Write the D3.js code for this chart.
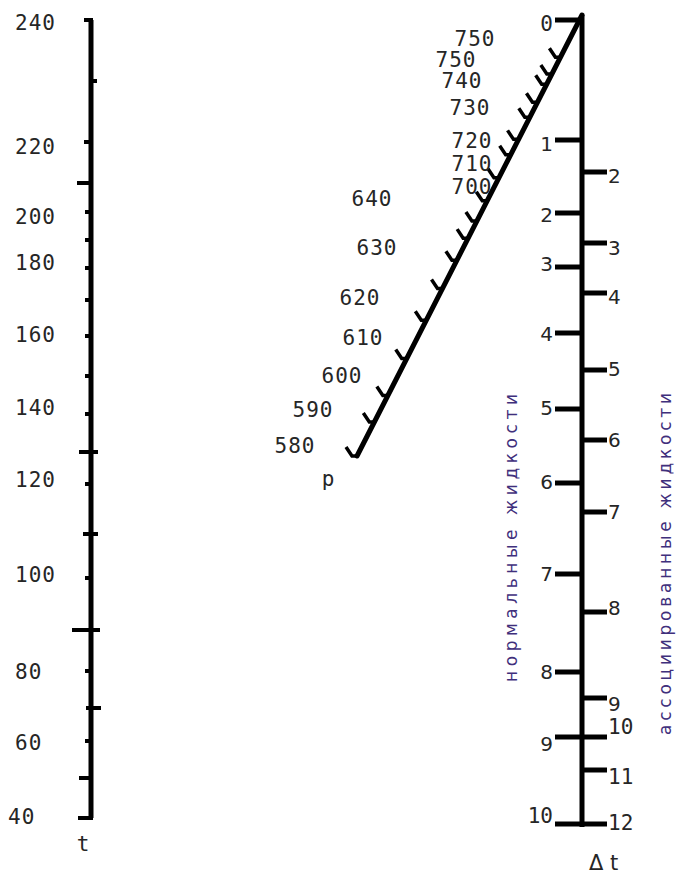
<!DOCTYPE html>
<html>
<head>
<meta charset="utf-8">
<script src="https://cdn.jsdelivr.net/npm/d3@7"></script>
<style>
  body { margin: 0; background: #fff; }
  svg { display: block; background: #fff; }
  .mono { font-family: "DejaVu Sans Mono", monospace; font-size: 21px; fill: #262626; }
  .sans { font-family: "DejaVu Sans", sans-serif; font-size: 20px; fill: #262626; }
  .vert { font-family: "DejaVu Sans", sans-serif; font-size: 17px; fill: #3f2f7c; }
</style>
</head>
<body>
<svg width="677" height="875"></svg>
<script>
// ---- data ----
// t scale, ticks every 10
var tValues = [240,230,220,210,200,190,180,170,160,150,140,130,120,110,100,90,80,70,60,50,40];
var tLabels = [240,220,200,180,160,140,120,100,80,60,40];

// Δt, normal liquids (left side) and associated liquids (right side)
var dtNormal = [0,1,2,3,4,5,6,7,8,9,10];
var dtAssoc  = [2,3,4,5,6,7,8,9,10,11,12];

// p scale along the slanted line
var pValues = [580,590,600,610,620,630,640,650,660,670,680,690,700,710,720,730,740,750];
var pLabels = ["580","590","600","610","620","630","640","700","710","720","730","740","750","750"];

// ---- layout ----
var svg = d3.select("svg"),
    width = 677,
    height = 875;

var xT = 91,      // left axis
    xDt = 582;    // right axis

// hand drawn, uneven scales
var yT = d3.scaleLinear()
    .domain(tValues)
    .range([20,81,142,183,212,240,268,300,336,376,414,452,484,534,578,630,671,708,741,778,818]);

var yNormal = d3.scaleLinear()
    .domain(dtNormal)
    .range([20,140,213,267,333,409,483,574,672,737,824]);

var yAssoc = d3.scaleLinear()
    .domain(dtAssoc)
    .range([172,243,293,370,440,512,612,698,737,770,824]);

// fraction along slanted line, bottom -> top
var pFrac = d3.scaleLinear()
    .domain(pValues)
    .range([0,.077,.137,.221,.308,.380,.444,.494,.533,.579,.631,.683,.718,.768,.802,.843,.866,.904]);

var pStart = [357, 456], pEnd = [xDt, 15];
function pPoint(p) {
  var f = pFrac(p);
  return [pStart[0] + (pEnd[0] - pStart[0]) * f, pStart[1] + (pEnd[1] - pStart[1]) * f];
}

// tick lengths on the t axis (left / right of the line)
var tickL = [6,0,6,13,5,5,5,5,5,5,5,11,5,7,5,18,5,4,5,11,12];
var tickR = [0,4,0,0,0,0,0,0,0,0,0,5,0,5,0,7,0,8,0,0,0];
var tLabelDy = [3,5,5,-5,-1,-6,-4,-3,1,2,-1];

var normalDy = [4,4,2,-3,1,-1,-1,0,0,7,-8];
var assocDy  = [4,5,4,-1,0,0,-4,6,-10,7,-1];

var pLabelXY = [[295,446],[313,410],[342,376],[363,338],[360,298],[377,248],[372,199],
                [472,187],[472,164],[472,141],[470,108],[462,81],[456,60],[475,39]];

// ---- t axis ----
var gT = svg.append("g");

gT.append("line")
    .attr("x1", xT).attr("x2", xT)
    .attr("y1", yT(240)).attr("y2", yT(40))
    .attr("stroke", "#000")
    .attr("stroke-width", 5);

gT.selectAll("rect.tick")
  .data(tValues)
  .enter()
  .append("rect")
    .attr("class", "tick")
    .attr("x", function(d, i){ return xT - tickL[i] - 1 })
    .attr("y", function(d){ return yT(d) - 2 })
    .attr("width", function(d, i){ return tickL[i] + tickR[i] + 3 })
    .attr("height", 4)
    .attr("fill", "#000");

gT.selectAll("text.lab")
  .data(tLabels)
  .enter()
  .append("text")
    .attr("class", "mono")
    .attr("x", function(d){ return d == 40 ? 8 : 15 })
    .attr("y", function(d, i){ return yT(d) + tLabelDy[i] })
    .attr("dominant-baseline", "central")
    .attr("letter-spacing", 1)
    .text(function(d){ return d });

gT.append("text")
    .attr("class", "mono")
    .attr("x", 83)
    .attr("y", 844)
    .attr("text-anchor", "middle")
    .attr("dominant-baseline", "central")
    .text("t");

// ---- Δt axis ----
var gD = svg.append("g");

gD.append("line")
    .attr("x1", xDt).attr("x2", xDt)
    .attr("y1", 15).attr("y2", 827)
    .attr("stroke", "#000")
    .attr("stroke-width", 5);

gD.selectAll("line.nt")
  .data(dtNormal)
  .enter()
  .append("line")
    .attr("x1", 555).attr("x2", xDt)
    .attr("y1", function(d){ return yNormal(d) })
    .attr("y2", function(d){ return yNormal(d) })
    .attr("stroke", "#000")
    .attr("stroke-width", 5);

gD.selectAll("line.at")
  .data(dtAssoc)
  .enter()
  .append("line")
    .attr("x1", xDt).attr("x2", 607)
    .attr("y1", function(d){ return yAssoc(d) })
    .attr("y2", function(d){ return yAssoc(d) })
    .attr("stroke", "#000")
    .attr("stroke-width", 5);

function digitClass(d) { return (d == 0 || d > 9) ? "mono" : "sans" }

gD.selectAll("text.nl")
  .data(dtNormal)
  .enter()
  .append("text")
    .attr("class", digitClass)
    .attr("x", 553)
    .attr("y", function(d, i){ return yNormal(d) + normalDy[i] })
    .attr("text-anchor", "end")
    .attr("dominant-baseline", "central")
    .text(function(d){ return d });

gD.selectAll("text.al")
  .data(dtAssoc)
  .enter()
  .append("text")
    .attr("class", digitClass)
    .attr("x", 608)
    .attr("y", function(d, i){ return yAssoc(d) + assocDy[i] })
    .attr("dominant-baseline", "central")
    .text(function(d){ return d });

svg.append("text")
    .attr("class", "sans")
    .attr("x", 589)
    .attr("y", 870)
    .style("font-size", "21px")
    .text("Δ t");

// ---- p line ----
var gP = svg.append("g");

gP.append("line")
    .attr("x1", pStart[0]).attr("y1", pStart[1])
    .attr("x2", pEnd[0]).attr("y2", pEnd[1])
    .attr("stroke", "#000")
    .attr("stroke-width", 5)
    .attr("stroke-linecap", "round");

gP.selectAll("path.ptick")
  .data(pValues)
  .enter()
  .append("path")
    .attr("d", function(d){
      var q = pPoint(d);
      return "M" + q[0] + "," + q[1] + "L" + (q[0] - 5) + "," + q[1] + "L" + (q[0] - 11) + "," + (q[1] - 9);
    })
    .attr("fill", "none")
    .attr("stroke", "#000")
    .attr("stroke-width", 3.5);

gP.selectAll("text.pl")
  .data(pLabels)
  .enter()
  .append("text")
    .attr("class", "mono")
    .attr("x", function(d, i){ return pLabelXY[i][0] })
    .attr("y", function(d, i){ return pLabelXY[i][1] })
    .attr("text-anchor", "middle")
    .attr("dominant-baseline", "central")
    .attr("letter-spacing", 1)
    .text(function(d){ return d });

gP.append("text")
    .attr("class", "mono")
    .attr("x", 328)
    .attr("y", 486)
    .attr("text-anchor", "middle")
    .text("p");

// ---- vertical captions ----
svg.append("text")
    .attr("class", "vert")
    .attr("transform", "translate(517,538) rotate(-90)")
    .attr("text-anchor", "middle")
    .attr("textLength", 288)
    .attr("lengthAdjust", "spacing")
    .text("нормальные жидкости");

svg.append("text")
    .attr("class", "vert")
    .attr("transform", "translate(671,564) rotate(-90)")
    .attr("text-anchor", "middle")
    .attr("textLength", 342)
    .attr("lengthAdjust", "spacing")
    .text("ассоциированные жидкости");
</script>
</body>
</html>
